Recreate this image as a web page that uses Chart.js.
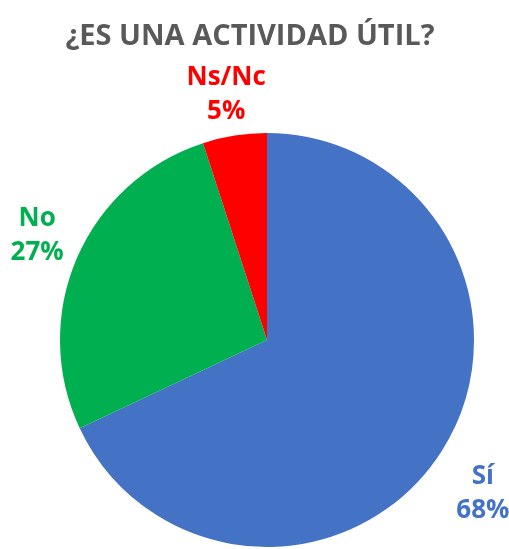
<!DOCTYPE html>
<html>
<head>
<meta charset="utf-8">
<script src="https://cdn.jsdelivr.net/npm/chart.js@4"></script>
<style>
  html, body { margin: 0; padding: 0; background: #fff; }
  #wrap { width: 509px; height: 549px; }
</style>
</head>
<body>
<div id="wrap"><canvas id="pieChart"></canvas></div>
<script>
// Datos del gráfico
const categories = ["Sí", "No", "Ns/Nc"];
const values = [68, 27, 5];
const colors = ["#4472C4", "#00B050", "#FF0000"];
const chartTitle = "¿ES UNA ACTIVIDAD ÚTIL?";

// Posición de cada etiqueta: distancia extra al borde y pequeño ajuste
const labelGap = [44, 50, 41];
const labelNudge = [[4, 19], [6, -2], [-2, 0]];

// Título centrado como en el original
const titleText = {
  id: "titleText",
  afterDraw(chart) {
    const ctx = chart.ctx;
    ctx.save();
    ctx.font = "bold 29px 'Open Sans'";
    ctx.fillStyle = "#595959";
    ctx.textAlign = "center";
    ctx.textBaseline = "alphabetic";
    ctx.fillText(chartTitle, 250, 45);
    ctx.restore();
  },
};

// Etiquetas fuera de la tarta: nombre y porcentaje
const outsideLabels = {
  id: "outsideLabels",
  afterDatasetsDraw(chart) {
    const ctx = chart.ctx;
    const meta = chart.getDatasetMeta(0);
    const total = values.reduce((a, b) => a + b, 0);
    ctx.save();
    ctx.font = "bold 26px 'Open Sans'";
    ctx.textAlign = "center";
    ctx.textBaseline = "middle";
    meta.data.forEach((arc, i) => {
      const p = arc.getProps(["x", "y", "startAngle", "endAngle", "outerRadius"], true);
      const mid = (p.startAngle + p.endAngle) / 2;
      const dist = p.outerRadius + labelGap[i];
      const x = p.x + Math.cos(mid) * dist + labelNudge[i][0];
      const y = p.y + Math.sin(mid) * dist + labelNudge[i][1];
      ctx.fillStyle = colors[i];
      ctx.fillText(categories[i], x, y - 17);
      ctx.fillText(Math.round((values[i] / total) * 100) + "%", x, y + 17);
    });
    ctx.restore();
  },
};

document.addEventListener("DOMContentLoaded", () => {
  const ctx = document.getElementById("pieChart").getContext("2d");

  new Chart(ctx, {
    type: "pie",
    data: {
      labels: categories,
      datasets: [
        {
          data: values,
          backgroundColor: colors,
          borderWidth: 0,
        },
      ],
    },
    options: {
      responsive: true,
      maintainAspectRatio: false,
      animation: false,
      layout: {
        padding: { left: 37, right: 12, top: 133, bottom: 2 },
      },
      plugins: {
        legend: { display: false },
        tooltip: { enabled: false },
        title: { display: false },
      },
    },
    plugins: [outsideLabels, titleText],
  });
});
</script>
</body>
</html>
